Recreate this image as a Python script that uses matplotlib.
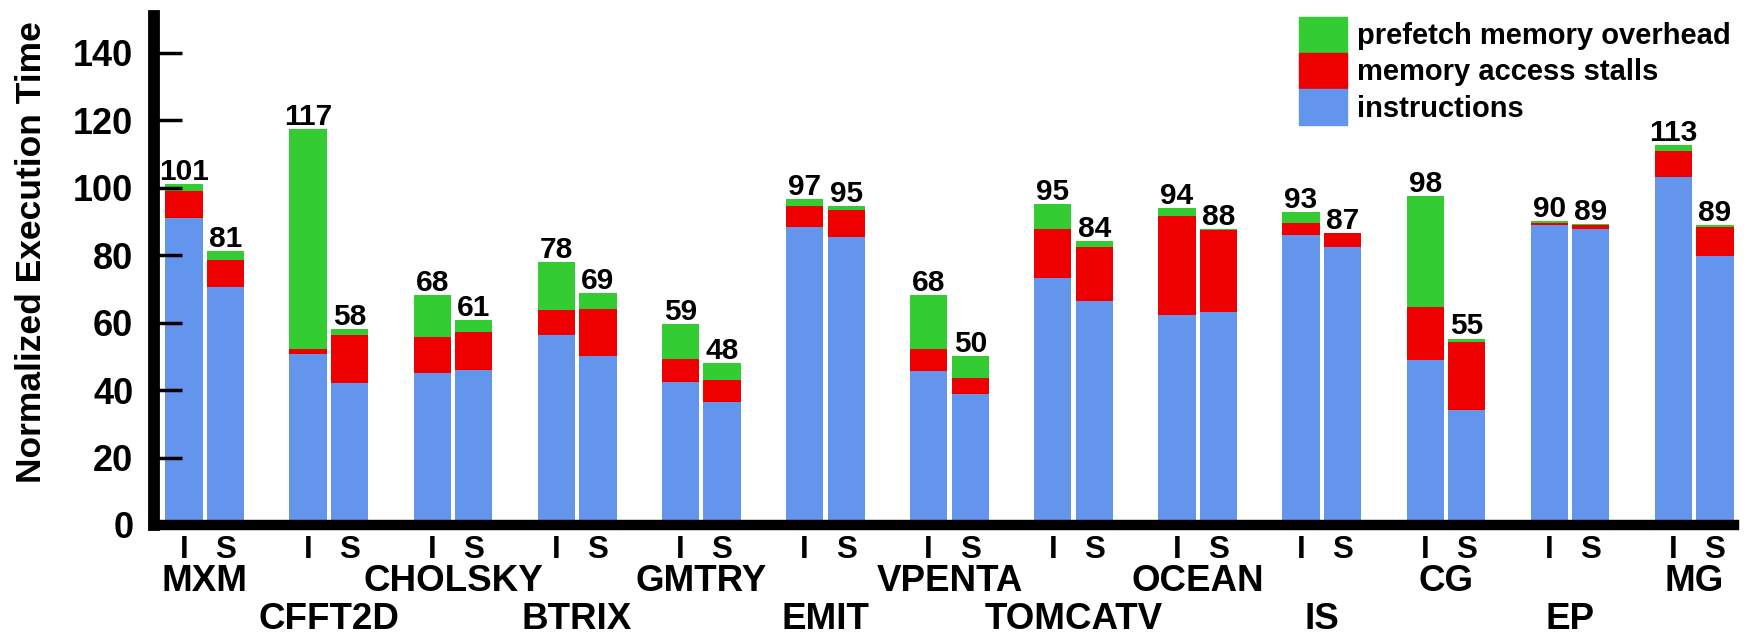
import matplotlib
matplotlib.use("Agg")
import matplotlib.pyplot as plt
import matplotlib.patches as mpatches
import numpy as np

plt.rcParams['font.family'] = ['Liberation Sans', 'DejaVu Sans']
plt.rcParams['font.weight'] = 'bold'

# benchmarks, two bars each: I and S
benchmarks = ['MXM', 'CFFT2D', 'CHOLSKY', 'BTRIX', 'GMTRY', 'EMIT', 'VPENTA',
              'TOMCATV', 'OCEAN', 'IS', 'CG', 'EP', 'MG']

# stacked components
instr_I = [91.0, 50.7, 45.2, 56.3, 42.5, 88.3, 45.6, 73.3, 62.4, 86.0, 48.9, 88.9, 103.1]
stall_I = [8.0, 1.4, 10.6, 7.4, 6.8, 6.4, 6.5, 14.5, 29.2, 3.6, 15.7, 0.7, 7.8]
pref_I = [2.2, 65.2, 12.5, 14.3, 10.2, 1.9, 16.2, 7.4, 2.3, 3.3, 32.9, 0.5, 1.7]

instr_S = [70.6, 42.0, 46.0, 50.2, 36.4, 85.5, 38.8, 66.5, 63.2, 82.3, 34.0, 87.7, 79.9]
stall_S = [7.9, 14.3, 11.1, 13.9, 6.6, 7.9, 4.7, 15.9, 24.2, 4.2, 20.4, 1.2, 8.4]
pref_S = [2.7, 1.9, 3.8, 4.7, 4.9, 1.3, 6.7, 1.7, 0.3, 0.1, 0.9, 0.3, 0.8]

total_I = [101, 117, 68, 78, 59, 97, 68, 95, 94, 93, 98, 90, 113]
total_S = [81, 58, 61, 69, 48, 95, 50, 84, 88, 87, 55, 89, 89]

C_INSTR = '#6495ED'
C_STALL = '#EE0000'
C_PREF = '#33CC33'

fig = plt.figure(figsize=(17.52, 6.34), dpi=100)
ax = fig.add_axes([0.088, 0.172, 0.902, 0.803])

x = np.arange(len(benchmarks))
off = 0.335
w = 0.30

for pos, ins, st, pf, tot in [(x, instr_I, stall_I, pref_I, total_I),
                              (x + off, instr_S, stall_S, pref_S, total_S)]:
    ins = np.array(ins)
    st = np.array(st)
    pf = np.array(pf)
    ax.bar(pos, ins, w, color=C_INSTR, linewidth=0)
    ax.bar(pos, st, w, bottom=ins, color=C_STALL, linewidth=0)
    ax.bar(pos, pf, w, bottom=ins + st, color=C_PREF, linewidth=0)
    for xi, top, t in zip(pos, ins + st + pf, tot):
        ax.text(xi, top + 1.2, str(t), ha='center', va='baseline',
                fontsize=21.5, fontweight='bold')

ax.set_xlim(-0.24, len(benchmarks) - 1 + off + 0.157)
ax.set_ylim(0, 151)
ax.set_yticks(np.arange(0, 141, 20))
ax.tick_params(axis='y', direction='in', length=20, width=2.5, labelsize=26, pad=15)

# I / S under each bar
xt = np.concatenate([x, x + off])
ax.set_xticks(xt)
ax.set_xticklabels(['I'] * len(x) + ['S'] * len(x), fontsize=22.5, fontweight='bold')
ax.tick_params(axis='x', length=0, pad=7)

# benchmark names, staggered in two rows
for i, name in enumerate(benchmarks):
    ypos = -0.112 if i % 2 == 0 else -0.186
    ax.text(x[i] + off / 2, ypos, name, transform=ax.get_xaxis_transform(),
            ha='center', va='center', fontsize=26.5, fontweight='bold')

ax.set_ylabel('Normalized Execution Time', fontsize=25.5, fontweight='bold')
ax.yaxis.label.set_verticalalignment('center')
ax.yaxis.set_label_coords(-0.0775, 0.536)

for s in ['top', 'right']:
    ax.spines[s].set_visible(False)
ax.spines['left'].set_linewidth(8.5)
ax.spines['bottom'].set_linewidth(7.5)

handles = [mpatches.Patch(color=C_PREF, label='prefetch memory overhead'),
           mpatches.Patch(color=C_STALL, label='memory access stalls'),
           mpatches.Patch(color=C_INSTR, label='instructions')]
ax.legend(handles=handles, loc='upper right', bbox_to_anchor=(1.009, 1.033),
          frameon=False, handlelength=1.65, handleheight=1.53,
          labelspacing=0.0, handletextpad=0.37, borderaxespad=0.2,
          prop={'weight': 'bold', 'size': 21})

fig.savefig('out.png', dpi=100, facecolor='white')
